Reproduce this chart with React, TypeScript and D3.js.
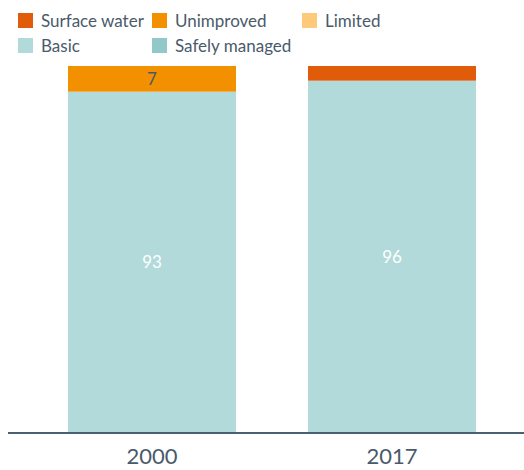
import React from "react";
import * as d3 from "d3";

const years = ["2000", "2017"];
const surfaceWater = [0, 4];
const unimproved = [7, 0];
const limited = [0, 0];
const basic = [93, 96];
const safelyManaged = [0, 0];

const legendItems = [
  { key: "surface", label: "Surface water", color: "#E05C0A" },
  { key: "unimproved", label: "Unimproved", color: "#F39000" },
  { key: "limited", label: "Limited", color: "#FDC97A" },
  { key: "basic", label: "Basic", color: "#B3DADA" },
  { key: "safely", label: "Safely managed", color: "#93C8C8" },
];

const W = 524;
const H = 470;
const textColor = "#4A5A6B";

export default function App() {
  const x = d3.scaleBand().domain(years).range([8, 536]).paddingInner(0.3).paddingOuter(0.25);
  const y = d3.scaleLinear().domain([0, 100]).range([433, 66]);

  const rows = years.map((yr, i) => ({
    year: yr,
    safely: safelyManaged[i],
    basic: basic[i],
    limited: limited[i],
    unimproved: unimproved[i],
    surface: surfaceWater[i],
  }));
  const keys = ["safely", "basic", "limited", "unimproved", "surface"];
  const stack = d3.stack<any>().keys(keys)(rows);
  const colorOf: Record<string, string> = {};
  legendItems.forEach((l) => (colorOf[l.key] = l.color));
  const labelColor: Record<string, string> = {
    basic: "#ffffff",
    safely: "#ffffff",
    unimproved: textColor,
    limited: textColor,
    surface: "#ffffff",
  };

  const legendPos = [
    [18, 13],
    [152, 13],
    [302, 13],
    [18, 38],
    [152, 38],
  ];

  return (
    <svg width={W} height={H} style={{ position: "absolute", left: 0, top: 0 }} fontFamily="Lato, 'Open Sans', sans-serif">
      {legendItems.map((l, i) => (
        <g key={l.key} transform={`translate(${legendPos[i][0]},${legendPos[i][1]})`}>
          <rect width={15} height={15} fill={l.color} />
          <text x={23} y={13.5} fontSize={17} fill={textColor}>
            {l.label}
          </text>
        </g>
      ))}
      {stack.map((s) =>
        s.map((d, i) => {
          const v = d[1] - d[0];
          if (v <= 0) return null;
          const x0 = x(years[i])!;
          return (
            <g key={s.key + i}>
              <rect x={x0} y={y(d[1])} width={x.bandwidth()} height={y(d[0]) - y(d[1])} fill={colorOf[s.key]} />
              {v >= 5 && (
                <text
                  x={x0 + x.bandwidth() / 2}
                  y={(y(d[0]) + y(d[1])) / 2}
                  dy="0.36em"
                  textAnchor="middle"
                  fontSize={17}
                  fill={labelColor[s.key]}
                >
                  {v}
                </text>
              )}
            </g>
          );
        })
      )}
      <line x1={8} x2={524} y1={433} y2={433} stroke="#4A5F70" strokeWidth={2} />
      {years.map((yr) => (
        <text key={yr} x={x(yr)! + x.bandwidth() / 2} y={463.5} textAnchor="middle" fontSize={22} fill={textColor}>
          {yr}
        </text>
      ))}
    </svg>
  );
}
